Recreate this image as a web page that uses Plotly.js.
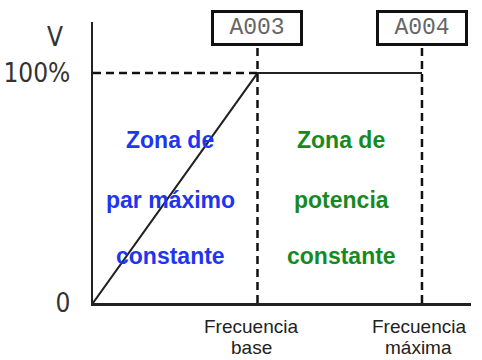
<!DOCTYPE html>
<html>
<head>
<meta charset="utf-8">
<script src="https://cdn.plot.ly/plotly-3.0.1.min.js"></script>
<style>html,body{margin:0;padding:0;background:#fff;}#chart{width:482px;height:360px;}</style>
</head>
<body>
<div id="chart"></div>
<script>
// Frequency levels (0, base, max) and voltage levels (fraction of 100%)
const freqPoints = [0, 1, 2];
const voltPoints = [0, 1, 1];
const freqTickLabels = [["Frecuencia", "base"], ["Frecuencia", "máxima"]];
const freqTickVals = [1, 2];
const paramCodes = ["A003", "A004"];
const voltTickVals = [0, 1];
const voltTickLabels = ["0", "100%"];
const zoneLabels = [["Zona de", "par máximo", "constante"], ["Zona de", "potencia", "constante"]];
const zoneCenters = [0.47, 1.51];
const zoneRows = [0.708, 0.448, 0.204];
const zoneColors = ["#1f35f0", "#178a1f"];

const xRange = [0, 2.298];
const yRange = [0, 1.222];
const ink = "#222";
const narrow = "Liberation Sans Narrow, DejaVu Sans Condensed, Liberation Sans, Arial, sans-serif";

const traces = [
  { x: freqPoints, y: voltPoints, mode: "lines", line: { color: ink, width: 2 }, hoverinfo: "skip" },
  { x: [freqPoints[0], freqPoints[1]], y: [voltPoints[1], voltPoints[1]], mode: "lines",
    line: { color: "#111", width: 2.5, dash: "8px,5px" }, hoverinfo: "skip" },
  { x: [freqPoints[1], freqPoints[1]], y: [0, 1.122], mode: "lines",
    line: { color: "#111", width: 2.5, dash: "8px,5px" }, hoverinfo: "skip" },
  { x: [freqPoints[2], freqPoints[2]], y: [0, 1.13], mode: "lines",
    line: { color: "#111", width: 2.5, dash: "8px,5px" }, hoverinfo: "skip" }
];

const annotations = [];
// Frequency labels under the axis
const shifts = [-6, -3];
freqTickVals.forEach((v, i) => {
  annotations.push({ x: v, xref: "x", y: -0.082, yref: "paper", text: freqTickLabels[i][0],
    showarrow: false, xanchor: "center", yanchor: "middle", xshift: shifts[i],
    font: { family: "Liberation Sans, Arial, sans-serif", size: 19, color: ink } });
  annotations.push({ x: v, xref: "x", y: -0.157, yref: "paper", text: freqTickLabels[i][1],
    showarrow: false, xanchor: "center", yanchor: "middle", xshift: shifts[i],
    font: { family: "Liberation Sans, Arial, sans-serif", size: 19, color: ink } });
  // parameter code box
  annotations.push({ x: v, xref: "x", y: 0.979, yref: "paper", text: paramCodes[i],
    showarrow: false, xanchor: "center", yanchor: "middle",
    width: 86, height: 30, borderpad: 0, borderwidth: 3, bordercolor: "#111", bgcolor: "#fff",
    font: { family: "Liberation Mono, DejaVu Sans Mono, monospace", size: 23, color: "#666" } });
});
// V axis label
annotations.push({ x: -0.1005, xref: "paper", y: 0.947, yref: "paper", text: "V", showarrow: false,
  xanchor: "center", yanchor: "middle", font: { family: narrow, size: 26, color: "#333" } });
// Zone texts
zoneLabels.forEach((lines, z) => {
  lines.forEach((t, r) => {
    annotations.push({ x: zoneCenters[z], xref: "x", y: zoneRows[r], yref: "y", text: "<b>" + t + "</b>",
      showarrow: false, xanchor: "center", yanchor: "middle",
      font: { family: "Liberation Sans, Arial, sans-serif", size: 23, color: zoneColors[z] } });
  });
});

const layout = {
  width: 482, height: 360,
  margin: { l: 93, r: 11, t: 22, b: 57, pad: 0 },
  paper_bgcolor: "#fff", plot_bgcolor: "#fff",
  showlegend: false,
  xaxis: { range: xRange, showgrid: false, zeroline: false, showline: true, linecolor: ink, linewidth: 2.5,
    showticklabels: false, ticks: "", fixedrange: true },
  yaxis: { range: yRange, showgrid: false, zeroline: false, showline: true, linecolor: ink, linewidth: 2.5,
    tickvals: voltTickVals, ticktext: voltTickLabels, ticks: "", ticklabelstandoff: 15,
    tickfont: { family: narrow, size: 26, color: "#333" }, fixedrange: true },
  annotations: annotations
};

Plotly.newPlot("chart", traces, layout, { staticPlot: true, displayModeBar: false });
</script>
</body>
</html>
